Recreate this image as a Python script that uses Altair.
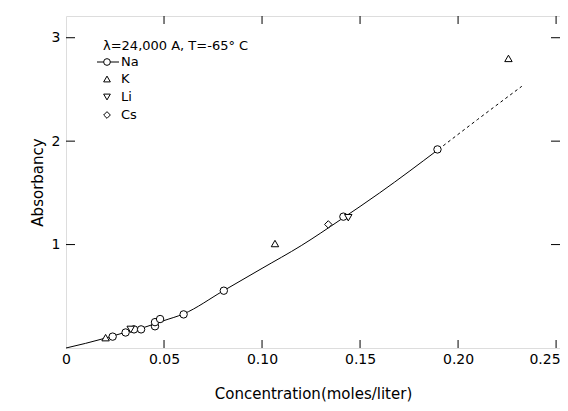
import altair as alt
import pandas as pd

# ---- data ----
curve_x = [0, 0.01, 0.02, 0.03, 0.04, 0.05, 0.06, 0.08, 0.10, 0.12, 0.14, 0.16, 0.19]
curve_y = [0, 0.045, 0.095, 0.15, 0.20, 0.265, 0.33, 0.55, 0.77, 0.99, 1.24, 1.50, 1.92]
dash_x = [0.19, 0.21, 0.2325]
dash_y = [1.92, 2.21, 2.53]

na_x = [0.0238, 0.0304, 0.0347, 0.0383, 0.0454, 0.0454, 0.048, 0.060, 0.0805, 0.1415, 0.1895]
na_y = [0.11, 0.15, 0.18, 0.18, 0.21, 0.25, 0.28, 0.325, 0.554, 1.27, 1.92]
k_x = [0.0202, 0.1066, 0.2257]
k_y = [0.10, 1.01, 2.80]
li_x = [0.033, 0.144]
li_y = [0.18, 1.26]
cs_x = [0.1338]
cs_y = [1.195]

x_ticks = [0, 0.05, 0.10, 0.15, 0.20, 0.25]
y_ticks = [1, 2, 3]

series = ["Na", "K", "Li", "Cs"]
shapes = ["circle", "triangle-up", "triangle-down", "diamond"]
leg_title_text = "λ=24,000 A, T=-65° C"

W, H = 494, 332
FONT = "DejaVu Sans"

curve_df = pd.DataFrame({"x": curve_x, "y": curve_y})
dash_df = pd.DataFrame({"x": dash_x, "y": dash_y})
pts = []
for name, xs, ys in [("Na", na_x, na_y), ("K", k_x, k_y), ("Li", li_x, li_y), ("Cs", cs_x, cs_y)]:
    for a, b in zip(xs, ys):
        pts.append({"x": a, "y": b, "series": name})
pts_df = pd.DataFrame(pts)

xscale = alt.Scale(domain=[0, 0.252], nice=False, zero=False)
yscale = alt.Scale(domain=[0, 3.21], nice=False, zero=False)

X = alt.X("x:Q", scale=xscale, axis=alt.Axis(
    values=x_ticks,
    labelExpr="datum.value == 0 ? '0' : format(datum.value, '.2f')",
    labelAlign={"condition": {"test": "datum.value >= 0.25", "value": "right"}, "value": "center"},
    labelOffset={"condition": {"test": "datum.value >= 0.25", "value": 4}, "value": 0},
    ticks=False, tickSize=0, domain=False, grid=False,
    labelFont=FONT, labelFontSize=14, labelColor="black", labelPadding=4,
    title="Concentration(moles/liter)", titleFont=FONT, titleFontSize=15,
    titleFontWeight="normal", titleColor="black", titlePadding=20,
))
Y = alt.Y("y:Q", scale=yscale, axis=alt.Axis(
    values=y_ticks, format="d",
    ticks=False, tickSize=0, domain=False, grid=False,
    labelFont=FONT, labelFontSize=14, labelColor="black", labelPadding=6,
    title="Absorbancy", titleFont=FONT, titleFontSize=15,
    titleFontWeight="normal", titleColor="black", titlePadding=6,
))

curve = alt.Chart(curve_df).mark_line(color="black", strokeWidth=1, interpolate="monotone").encode(x=X, y=Y)
dash = alt.Chart(dash_df).mark_line(color="black", strokeWidth=1, strokeDash=[3, 3], interpolate="monotone").encode(x=X, y=Y)
points = alt.Chart(pts_df).mark_point(filled=False, color="black", strokeWidth=1, opacity=1, fill="white", size=55).encode(
    x=X, y=Y,
    shape=alt.Shape("series:N", scale=alt.Scale(domain=series, range=shapes), legend=None),
)

xt_df = pd.DataFrame({"x": x_ticks[1:]})
yt_df = pd.DataFrame({"y": y_ticks})
tick_b = alt.Chart(xt_df).mark_rule(color="black", strokeWidth=1).encode(x=X, y=alt.value(H), y2=alt.value(H - 8))
tick_t = alt.Chart(xt_df).mark_rule(color="black", strokeWidth=1).encode(x=X, y=alt.value(0), y2=alt.value(8))
tick_l = alt.Chart(yt_df).mark_rule(color="black", strokeWidth=1).encode(y=Y, x=alt.value(0), x2=alt.value(9))
tick_r = alt.Chart(yt_df).mark_rule(color="black", strokeWidth=1).encode(y=Y, x=alt.value(W), x2=alt.value(W - 9))

# ---- in-plot legend ----
leg_title = alt.Chart(pd.DataFrame({"t": [leg_title_text]})).mark_text(
    align="left", baseline="middle", font=FONT, fontSize=13, color="black"
).encode(text="t:N", x=alt.value(37), y=alt.value(30))

leg_y = [46, 63, 81, 99]
leg_text_layers = []
for lab, yy in zip(series, leg_y):
    leg_text_layers.append(
        alt.Chart(pd.DataFrame({"label": [lab]})).mark_text(
            align="left", baseline="middle", font=FONT, fontSize=13, color="black"
        ).encode(text="label:N", x=alt.value(55), y=alt.value(yy))
    )
leg_sym_layers = []
for s, shp, yy in zip(series, shapes, leg_y):
    leg_sym_layers.append(
        alt.Chart(pd.DataFrame({"series": [s]})).mark_point(
            filled=False, color="black", strokeWidth=1, opacity=1, fill="white", size=45, shape=shp
        ).encode(x=alt.value(41), y=alt.value(yy))
    )
leg_line = alt.Chart(pd.DataFrame({"a": [0]})).mark_rule(color="black", strokeWidth=1).encode(
    x=alt.value(31), x2=alt.value(53), y=alt.value(leg_y[0])
)

chart = alt.layer(
    curve, dash, tick_b, tick_t, tick_l, tick_r, leg_line, points,
    leg_title, *leg_sym_layers, *leg_text_layers,
).properties(
    width=W, height=H,
    autosize=alt.AutoSizeParams(type="none"),
    padding={"left": 58, "top": 8, "right": 0, "bottom": 54},
).configure_view(
    stroke="black", strokeWidth=1
).configure(background="white")

chart.save("out.html", embed_options={"renderer": "svg", "actions": False})
